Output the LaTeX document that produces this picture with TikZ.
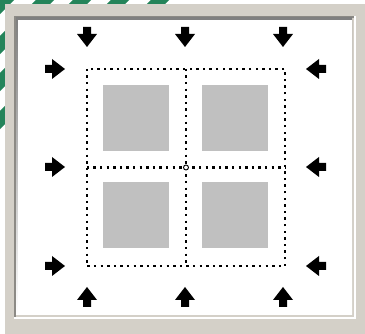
\documentclass[tikz,border=0pt]{standalone}
\usepackage{xcolor}
\usepackage{tikz}
\usetikzlibrary{positioning}
\definecolor{panel}{HTML}{D4D0C8}
\definecolor{shade}{HTML}{404040}
\definecolor{midgray}{HTML}{8C8A85}
\definecolor{cellgray}{HTML}{C0C0C0}
\definecolor{slidegreen}{HTML}{24845A}
\tikzset{
  cell/.style={rectangle, fill=cellgray, minimum size=66pt, inner sep=0pt},
  guide/.style={draw=black, line width=2.4pt, dash pattern=on 2.4pt off 4.2pt},
  pivot/.style={circle, draw=black, fill=white, line width=0.9pt, minimum size=5pt, inner sep=0pt},
  stripe/.style={draw=slidegreen, line width=13pt},
  push/.pic={\fill[black] (0,0) -- (-13,10) -- (-13,4) -- (-20,4) -- (-20,-4) -- (-13,-4) -- (-13,-10) -- cycle;},
}
\begin{document}
\begin{tikzpicture}[x=1pt, y=-1pt]
  \useasboundingbox (0,0) rectangle (365,334);
  % slide background behind the dialog
  \fill[white] (0,0) rectangle (365,334);
  \begin{scope}
    \clip (0,0) rectangle (200,140);
    \draw[stripe] (-30,35) -- (35,-30);
    \draw[stripe] (-30,75) -- (80,-35);
    \draw[stripe] (-30,112) -- (125,-43);
    \draw[stripe] (-30,150) -- (165,-45);
    \draw[stripe] (-30,190) -- (210,-50);
  \end{scope}
  % dialog frame
  \fill[panel] (5,4) rectangle (365,334);
  \fill[white] (14,16) rectangle (356,319);
  \fill[midgray] (14,16) rectangle (354,317);
  \fill[panel] (16,18) rectangle (354,317);
  \fill[shade] (16,18) rectangle (352,315);
  \fill[white] (18,20) rectangle (352,315);

  % grid cells
  \node[cell] (c11) at (136,118) {};
  \node[cell] (c12) at (235,118) {};
  \node[cell] (c21) at (136,215.5) {};
  \node[cell] (c22) at (235,215.5) {};

  % dotted layout frame
  \node[rectangle, minimum width=198pt, minimum height=197pt, inner sep=0pt] (grid) at (186,167.5) {};
  \draw[guide] (grid.north west) rectangle (grid.south east);
  \draw[guide] (grid.north) -- (grid.south);
  \draw[guide] (grid.west) -- (grid.east);
  \node[pivot] (centre) at (grid.center) {};

  % top arrows
  \pic[rotate=-90] at (87,47) {push};
  \pic[rotate=-90] at (185,47) {push};
  \pic[rotate=-90] at (283,47) {push};
  % bottom arrows
  \pic[rotate=90] at (87,287) {push};
  \pic[rotate=90] at (185,287) {push};
  \pic[rotate=90] at (283,287) {push};
  % left arrows
  \pic at (65,69) {push};
  \pic at (65,167) {push};
  \pic at (65,266) {push};
  % right arrows
  \pic[rotate=180] at (306,69) {push};
  \pic[rotate=180] at (306,167) {push};
  \pic[rotate=180] at (306,266) {push};
\end{tikzpicture}
\end{document}
